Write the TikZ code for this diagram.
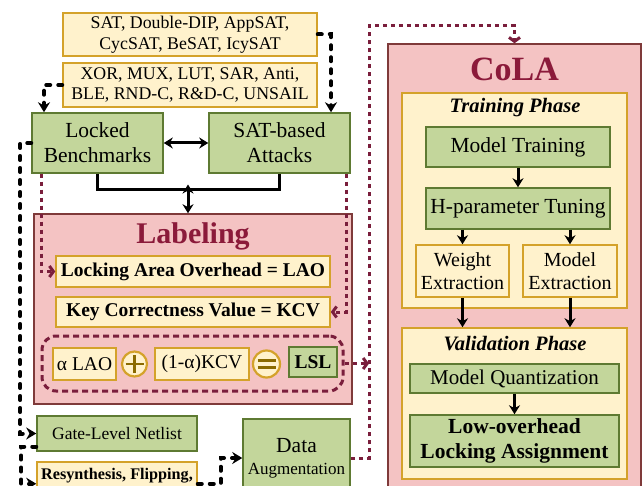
\documentclass[tikz,border=0pt]{standalone}
\usepackage{fontspec}
\setmainfont{Liberation Serif}
\usetikzlibrary{arrows.meta}
\definecolor{gfill}{HTML}{C3D69B}
\definecolor{gline}{HTML}{5E7A32}
\definecolor{yfill}{HTML}{FFF2CC}
\definecolor{yline}{HTML}{D4A22A}
\definecolor{pfill}{HTML}{F4C3C3}
\definecolor{pline}{HTML}{7F3A3A}
\definecolor{maroon}{HTML}{8B1A3A}
\definecolor{dred}{HTML}{7A1E3C}
\definecolor{symc}{HTML}{8A6A00}
\begin{document}
\begin{tikzpicture}[x=1pt,y=-1pt,
  gbox/.style={draw=gline,fill=gfill,line width=1.5pt,inner sep=0pt,align=center},
  ybox/.style={draw=yline,fill=yfill,line width=1.5pt,inner sep=0pt,align=center},
  pbox/.style={draw=pline,fill=pfill,line width=1.5pt,inner sep=0pt},
  arr/.style={line width=3pt,-{Stealth[length=9pt,width=11pt]}},
  dblarr/.style={line width=3pt,{Stealth[length=9pt,width=11pt]}-{Stealth[length=9pt,width=11pt]}},
  plain/.style={line width=3pt},
  blkdash/.style={line width=4pt,line cap=round,dash pattern=on 4pt off 8pt,-{Stealth[length=10pt,width=12pt]}},
  reddot/.style={draw=dred,line width=3pt,dash pattern=on 4pt off 4pt,-{Straight Barb[length=4pt,width=11pt]}},
  circsym/.style={circle,draw=yline,fill=yfill,line width=2.2pt,inner sep=0pt},
  symline/.style={draw=symc,line width=2.2pt}
]
\useasboundingbox (0,0) rectangle (642,486);
\fill[white] (0,0) rectangle (642,486);
\clip (0,0) rectangle (642,486);

% ---------- top left ----------
\node[ybox,minimum width=254pt,minimum height=43pt,font=\fontsize{17.8}{20.5}\selectfont] (atk) at (190,34.5)
  {SAT, Double-DIP, AppSAT,\\CycSAT, BeSAT, IcySAT};
\node[ybox,minimum width=254pt,minimum height=44pt,font=\fontsize{17.8}{20.5}\selectfont] (lk) at (190,85)
  {XOR, MUX, LUT, SAR, Anti,\\BLE, RND-C, R\&D-C, UNSAIL};
\node[gbox,minimum width=131pt,minimum height=60pt,font=\fontsize{21.5}{25}\selectfont] (lb) at (97.5,143)
  {Locked\\Benchmarks};
\node[gbox,minimum width=141pt,minimum height=60pt,font=\fontsize{21.5}{25}\selectfont] (sa) at (279.5,143)
  {SAT-based\\Attacks};

% ---------- Labeling ----------
\node[pbox,minimum width=318pt,minimum height=190pt] (lab) at (193,309) {};
\node[font=\fontsize{30}{32}\selectfont\bfseries,text=maroon] (labt) at (193,236) {Labeling};
\node[ybox,minimum width=274pt,minimum height=31pt,font=\fontsize{19.5}{22}\selectfont\bfseries] (lao) at (193,271.5)
  {Locking Area Overhead = LAO};
\node[ybox,minimum width=274pt,minimum height=30pt,font=\fontsize{19.5}{22}\selectfont\bfseries] (kcv) at (193,312)
  {Key Correctness Value = KCV};
\node[draw=dred,line width=3pt,dash pattern=on 6pt off 4pt,rounded corners=14pt,
      minimum width=301pt,minimum height=55pt,inner sep=0pt] (eq) at (192.5,363.5) {};
\node[ybox,minimum width=63pt,minimum height=32pt,font=\fontsize{19.5}{22}\selectfont] (alao) at (84.5,364) {α LAO};
\node[circsym,minimum size=25pt] (pl) at (134.5,364) {};
\draw[symline] ([xshift=-9pt]pl.center) -- ([xshift=9pt]pl.center);
\draw[symline] ([yshift=-9pt]pl.center) -- ([yshift=9pt]pl.center);
\node[ybox,minimum width=94pt,minimum height=32pt,font=\fontsize{19.5}{22}\selectfont] (kcvt) at (202,364) {(1-α)KCV};
\node[circsym,minimum size=27pt] (eqs) at (266.5,364) {};
\draw[symline] ([xshift=-9pt,yshift=3.5pt]eqs.center) -- ([xshift=9pt,yshift=3.5pt]eqs.center);
\draw[symline] ([xshift=-9pt,yshift=-3.5pt]eqs.center) -- ([xshift=9pt,yshift=-3.5pt]eqs.center);
\node[gbox,minimum width=48pt,minimum height=30pt,font=\fontsize{19.5}{22}\selectfont\bfseries] (lsl) at (313,362) {LSL};

% ---------- bottom left ----------
\node[gbox,minimum width=160pt,minimum height=35pt,font=\fontsize{17.5}{20}\selectfont] (gl) at (117,433.5) {Gate-Level Netlist};
\node[ybox,anchor=north,minimum width=160pt,minimum height=44pt,font=\fontsize{16.2}{19}\selectfont\bfseries] (rs) at (117,461)
  {Resynthesis, Flipping,\\\phantom{X}};
\node[gbox,minimum width=107pt,minimum height=78pt,font=\fontsize{17}{22}\selectfont] (da) at (296.5,458)
  {{\fontsize{21.5}{22}\selectfont Data}\\Augmentation};

% ---------- CoLA ----------
\node[pbox,minimum width=253pt,minimum height=460pt] (cola) at (514.5,274) {};
\node[font=\fontsize{34}{36}\selectfont\bfseries,text=maroon] (colat) at (514.5,69) {CoLA};
\node[ybox,minimum width=225pt,minimum height=215pt] (tr) at (514.5,200.5) {};
\node[font=\fontsize{20.5}{23}\selectfont\bfseries\itshape] (trt) at (515,108) {Training Phase};
\node[gbox,minimum width=184pt,minimum height=40pt,font=\fontsize{21.5}{24}\selectfont] (mt) at (518,147) {Model Training};
\node[gbox,minimum width=184pt,minimum height=41pt,font=\fontsize{21.5}{24}\selectfont] (hp) at (518,208.5) {H-parameter Tuning};
\node[ybox,minimum width=93pt,minimum height=52pt,font=\fontsize{20}{23}\selectfont] (we) at (462.5,271) {Weight\\Extraction};
\node[ybox,minimum width=94pt,minimum height=52pt,font=\fontsize{20}{23}\selectfont] (me) at (570,271) {Model\\Extraction};
\node[ybox,minimum width=225pt,minimum height=151pt] (va) at (514.5,403.5) {};
\node[font=\fontsize{20.5}{23}\selectfont\bfseries\itshape] (vat) at (515,344) {Validation Phase};
\node[gbox,minimum width=209pt,minimum height=29pt,font=\fontsize{21}{24}\selectfont] (mq) at (514.5,378.5) {Model Quantization};
\node[gbox,minimum width=209pt,minimum height=52pt,font=\fontsize{21.5}{25}\selectfont\bfseries] (lo) at (514.5,441)
  {Low-overhead\\Locking Assignment};

% ---------- black connectors ----------
\draw[dblarr] (lb.east) -- (sa.west);
\coordinate (jn) at (188,189.5);
\draw[plain] (lb.south) |- (jn) -| (sa.south);
\draw[dblarr] ([yshift=5pt]jn) -- (jn |- lab.north);
\draw[arr] (mt.south) -- (hp.north);
\draw[arr] (we.north |- hp.south) -- (we.north);
\draw[arr] (me.north |- hp.south) -- (me.north);
\draw[arr] (we.south) -- (we.south |- va.north);
\draw[arr] (me.south) -- (me.south |- va.north);
\draw[arr] (mq.south) -- (lo.north);

% ---------- black dashed ----------
\draw[blkdash] (atk.east) -| ([xshift=51.5pt]sa.north);
\draw[blkdash] (lk.west) -| ([xshift=-53.5pt]lb.north);
\draw[blkdash] (lb.west) -- ++(-11,0) |- (gl.west);
\draw[blkdash] ([yshift=-13pt]gl.west) -- ++(-15,0) |- (rs.west);
\draw[blkdash] (rs.east) -- ++(23,0) |- (da.west);

% ---------- dark red dotted ----------
\coordinate (bus) at (369,26);
\draw[reddot] ([xshift=-56.5pt]lb.south) |- (lao.west);
\draw[reddot] ([xshift=66.5pt]sa.south) |- (kcv.east);
\draw[reddot] (da.east) -| (bus) -| (cola.north);
\draw[reddot] (eq.east) -- (eq.east -| bus);
\end{tikzpicture}
\end{document}
